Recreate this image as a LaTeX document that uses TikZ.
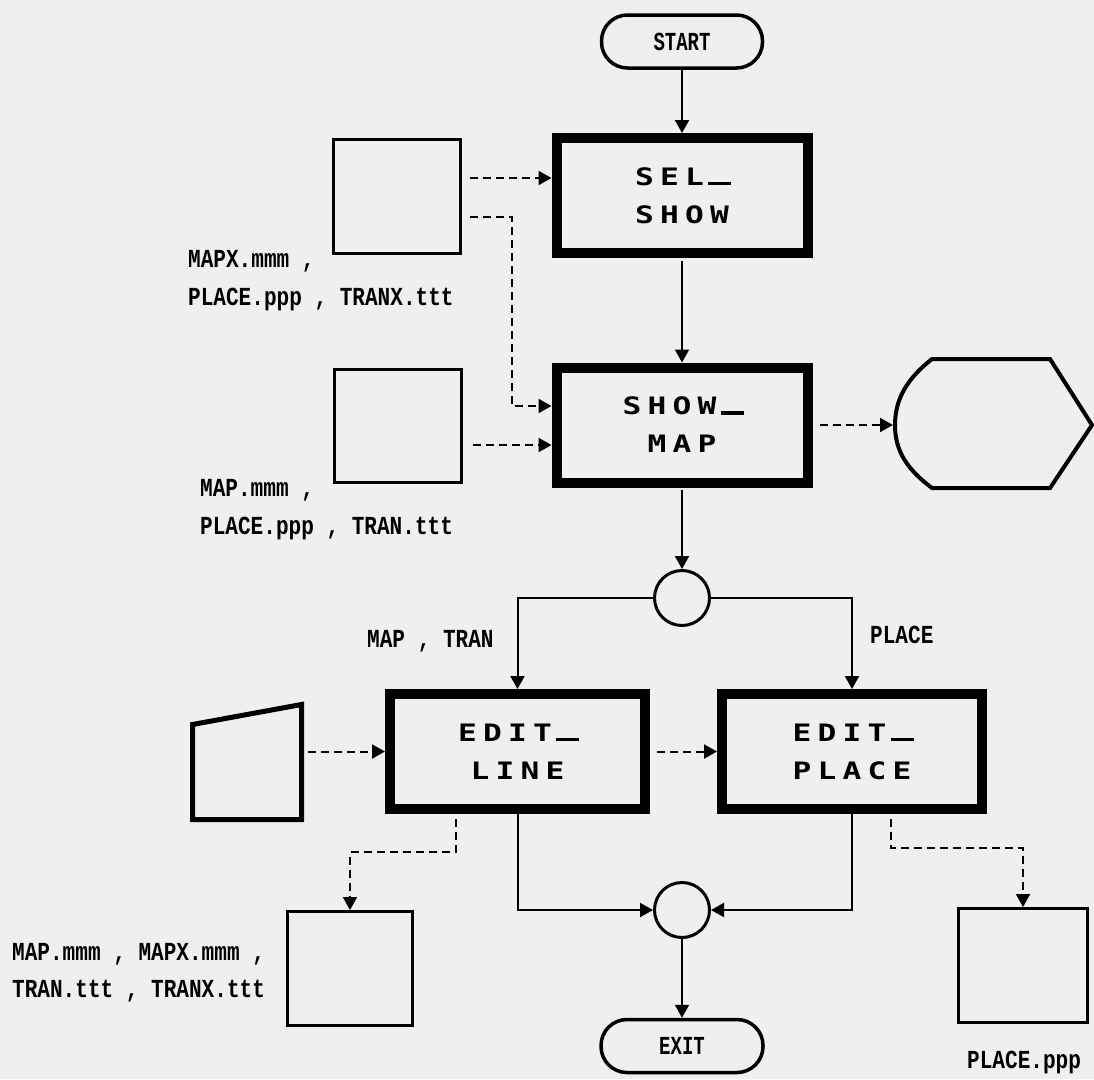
\documentclass[tikz,border=0pt]{standalone}
\usepackage{fontspec}
\usetikzlibrary{arrows.meta,calc}
\newfontfamily\lblfont{Liberation Mono}
\newfontfamily\bxfont{DejaVu Sans Mono}
\definecolor{paper}{RGB}{239,239,239}
\newcommand\bxch[1]{\makebox[25pt]{\scalebox{1.3}[1]{#1}}}
\newcommand\bxus{\makebox[25pt]{\rule{23pt}{3.5pt}}}
\newcommand\lbltext[1]{\scalebox{0.81}[1]{\lblfont\bfseries\fontsize{26}{30}\selectfont #1}}
\newcommand\termtext[1]{\scalebox{0.73}[1]{\lblfont\bfseries\fontsize{26}{30}\selectfont #1}}
\begin{document}
\begin{tikzpicture}[x=1pt,y=-1pt,
  thickbox/.style={draw, line width=10pt, minimum width=251pt, minimum height=115pt, inner sep=0pt, align=center, font=\bxfont\bfseries\fontsize{24}{38}\selectfont},
  filebox/.style={draw, line width=3pt, inner sep=0pt},
  term/.style={draw, line width=3.5pt, rounded corners=26pt, minimum width=161pt, minimum height=53pt, inner sep=0pt},
  junc/.style={draw, circle, line width=3pt, minimum size=55pt, inner sep=0pt},
  flow/.style={line width=2pt, -{Triangle[length=13pt,width=14pt]}},
  dflow/.style={flow, dash pattern=on 8pt off 5pt},
  lbl/.style={anchor=base west, inner sep=0pt},
]
\fill[paper] (0,0) rectangle (1094,1079);
\useasboundingbox (0,0) rectangle (1094,1079);

% main flow nodes
\node[term] (start) at (682,41.5) {\termtext{START}};
\node[thickbox] (sel) at (682,195.5) {\bxch{S}\bxch{E}\bxch{L}\bxus\\\bxch{S}\bxch{H}\bxch{O}\bxch{W}};
\node[thickbox] (smap) at (682,425) {\bxch{S}\bxch{H}\bxch{O}\bxch{W}\bxus\\\bxch{M}\bxch{A}\bxch{P}};
\node[junc] (c1) at (682,598) {};
\node[thickbox, minimum width=255pt] (eline) at (517.5,751.5) {\bxch{E}\bxch{D}\bxch{I}\bxch{T}\bxus\\\bxch{L}\bxch{I}\bxch{N}\bxch{E}};
\node[thickbox, minimum width=260pt] (eplace) at (852,751.5) {\bxch{E}\bxch{D}\bxch{I}\bxch{T}\bxus\\\bxch{P}\bxch{L}\bxch{A}\bxch{C}\bxch{E}};
\node[junc] (c2) at (682,910) {};
\node[term, minimum width=162pt] (exit) at (682,1046) {\termtext{EXIT}};

% file boxes
\node[filebox, minimum width=127pt, minimum height=114pt] (in1) at (397,196.5) {};
\node[filebox, minimum width=127pt, minimum height=113pt] (in2) at (398,426) {};
\node[filebox, minimum width=125pt, minimum height=114pt] (out1) at (350,968.5) {};
\node[filebox, minimum width=129pt, minimum height=114pt] (out2) at (1023,965.5) {};

% display (hexagon-like) shape
\draw[line width=4pt] (932,359) -- (1050,359) -- (1092,425) -- (1050,488) -- (932,488)
  .. controls (908,470) and (895,452) .. (895,425)
  .. controls (895,398) and (908,378) .. (932,359) -- cycle;
\coordinate (hexl) at (893,425);

% manual input (trapezoid)
\draw[line width=5pt] (192.5,724.5) -- (301.5,704.5) -- (301.5,819.5) -- (192.5,819.5) -- cycle;
\coordinate (trapr) at (304,751.5);

% labels
\node[lbl] (l1a) at (188,267) {\lbltext{MAPX.mmm ,}};
\node[lbl] (l1b) at (188,305) {\lbltext{PLACE.ppp , TRANX.ttt}};
\node[lbl] (l2a) at (200,496) {\lbltext{MAP.mmm ,}};
\node[lbl] (l2b) at (200,534) {\lbltext{PLACE.ppp , TRAN.ttt}};
\node[lbl] (l3a) at (12,960) {\lbltext{MAP.mmm , MAPX.mmm ,}};
\node[lbl] (l3b) at (12,997) {\lbltext{TRAN.ttt , TRANX.ttt}};
\node[lbl] (l4) at (967,1068) {\lbltext{PLACE.ppp}};
\node[lbl] (l5) at (367,647) {\lbltext{MAP , TRAN}};
\node[lbl] (l6) at (870,643) {\lbltext{PLACE}};

% solid connectors
\draw[flow] (start) -- (sel);
\draw[flow, shorten <=3pt] (sel) -- (smap);
\draw[flow, shorten <=2pt] (smap) -- (c1);
\draw[flow] (c1.west) -| (eline.north);
\draw[flow] (c1.east) -| (eplace.north);
\draw[flow] (eline.south) |- (c2.west);
\draw[flow] (eplace.south) |- (c2.east);
\draw[flow] (c2) -- (exit);

% dashed connectors
\coordinate (a1) at ([yshift=17.5pt]sel.west);
\draw[dflow, shorten <=8pt] (in1.east |- a1) -- (a1);
\coordinate (a2) at ([yshift=19pt]smap.west);
\draw[dflow, shorten <=8pt] ([yshift=-20pt]in1.east) -| ([xshift=-40pt]a2) -- (a2);
\coordinate (a3) at ([yshift=-20pt]smap.west);
\draw[dflow, shorten <=10pt] (in2.east |- a3) -- (a3);
\draw[dflow, shorten <=7pt] (smap.east) -- (hexl);
\draw[dflow, shorten <=4pt] (trapr) -- (trapr -| eline.west);
\draw[dflow, shorten <=7pt] (eline.east) -- (eplace.west);
\draw[dflow, shorten <=5pt] ([xshift=-62pt]eline.south) |- ($(out1.north)+(0,-58)$) -- (out1.north);
\draw[dflow, shorten <=5pt] ([xshift=39pt]eplace.south) |- ($(out2.north)+(0,-59)$) -- (out2.north);
\end{tikzpicture}
\end{document}
